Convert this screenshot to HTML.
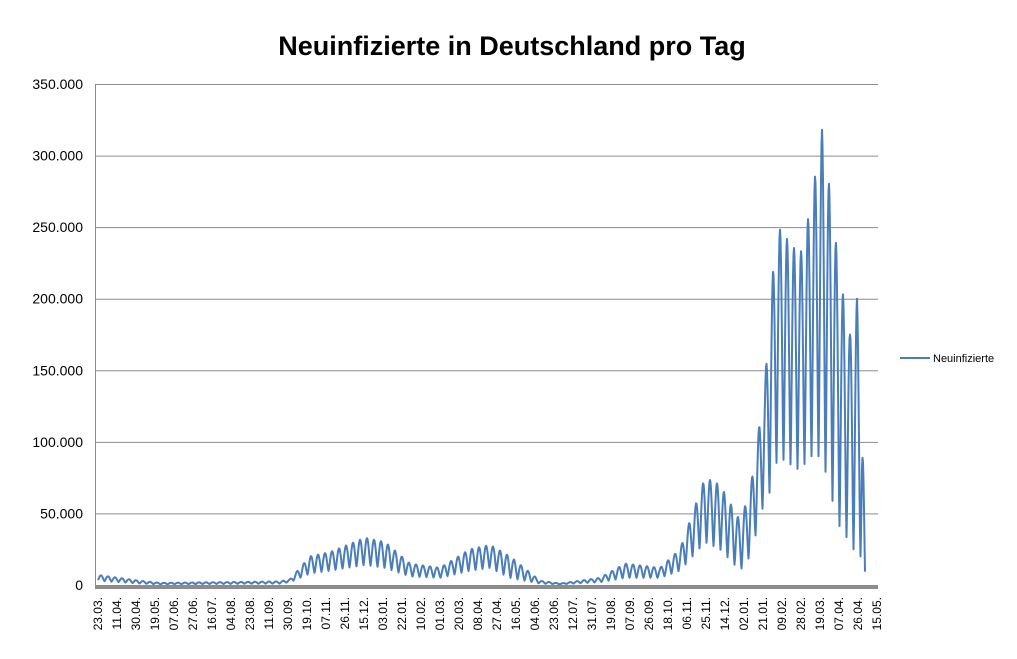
<!DOCTYPE html>
<html><head><meta charset="utf-8"><style>
body{margin:0;background:#fff;font-family:"Liberation Sans",Arial,sans-serif}
</style></head><body>
<svg id="s" width="1017" height="654" xmlns="http://www.w3.org/2000/svg" font-family="Liberation Sans, Arial, sans-serif">
<rect width="1017" height="654" fill="#fff"/>
<text x="512" y="55" text-anchor="middle" font-size="27" font-weight="bold" fill="#000">Neuinfizierte in Deutschland pro Tag</text>
<g id="grid" stroke="#8c8c8c" stroke-width="1"></g>
<g id="yl" font-size="14" fill="#000" text-anchor="end"></g>
<g id="xl" font-size="12" fill="#000"></g>
<polyline id="ln" fill="none" stroke="#4a7ebb" stroke-width="2" stroke-linejoin="round"/>
<line x1="900" y1="358" x2="930" y2="358" stroke="#4a7ebb" stroke-width="2"/>
<text x="933" y="362" font-size="11" fill="#000">Neuinfizierte</text>
</svg>
<script>
var ns="http://www.w3.org/2000/svg",L=95,R=878,T=84,B=585;
function el(p,t,a,txt){var e=document.createElementNS(ns,t);for(var k in a)e.setAttribute(k,a[k]);if(txt)e.textContent=txt;document.getElementById(p).appendChild(e);return e;}
function Y(v){return B-(v/350000)*(B-T);}
for(var i=0;i<=7;i++){var y=Y(i*50000);el("grid","line",{x1:L,x2:R,y1:y+0.5,y2:y+0.5});
el("yl","text",{x:83,y:y+5},i==0?"0":(i*50).toFixed(0)+".000");}
el("grid","line",{x1:L+0.5,x2:L+0.5,y1:T,y2:B});
el("grid","rect",{x:L,y:B,width:R-L,height:4,fill:"#8c8c8c",stroke:"none"});
var labs=["23.03.","11.04.","30.04.","19.05.","07.06.","27.06.","16.07.","04.08.","23.08.","11.09.","30.09.","19.10.","07.11.","26.11.","15.12.","03.01.","22.01.","10.02.","01.03.","20.03.","08.04.","27.04.","16.05.","04.06.","23.06.","12.07.","31.07.","19.08.","07.09.","26.09.","18.10.","06.11.","25.11.","14.12.","02.01.","21.01.","09.02.","28.02.","19.03.","07.04.","26.04.","15.05."];
for(var i=0;i<labs.length;i++){var x=98+i*19;el("xl","text",{x:0,y:0,transform:"translate("+(x+4)+",597) rotate(-90)","text-anchor":"end"},labs[i]);}
var K=[[98,7000,3000],[140,3000,1000],[160,1500,500],[280,2500,1000],[290,4000,2000],[310,20000,8000],[330,23000,10000],[365,33000,14000],[385,30000,12000],[410,15000,6000],[440,12000,5000],[470,25000,10000],[490,28000,12000],[510,20000,5000],[540,3000,1000],[560,1000,500],[600,5000,2000],[625,15000,5000],[660,12000,5000],[680,25000,10000],[705,75000,30000],[720,70000,25000],[740,45000,10000],[750,65000,20000],[765,140000,60000],[770,200000,65000],[778,250000,90000],[800,230000,80000],[810,262000,90000],[822,318000,90000],[830,275000,65000],[840,215000,40000],[850,175000,30000],[857,200000,20000],[862,140000,20000],[865,10000,5000]];
function env(x){for(var i=0;i<K.length-1;i++){if(x<=K[i+1][0]){var a=K[i],b=K[i+1],t=(x-a[0])/(b[0]-a[0]);return[a[1]+t*(b[1]-a[1]),a[2]+t*(b[2]-a[2])];}}return[K[K.length-1][1],K[K.length-1][2]];}
var pts=[];for(var x=98;x<=865;x+=0.5){var e=env(x),w=(Math.cos((x-822)/7*2*Math.PI)+1)/2;w=Math.pow(w,0.7);var v=e[1]+(e[0]-e[1])*w;pts.push(x.toFixed(1)+","+Y(v).toFixed(1));}
document.getElementById("ln").setAttribute("points",pts.join(" "));
</script>
</body></html>
